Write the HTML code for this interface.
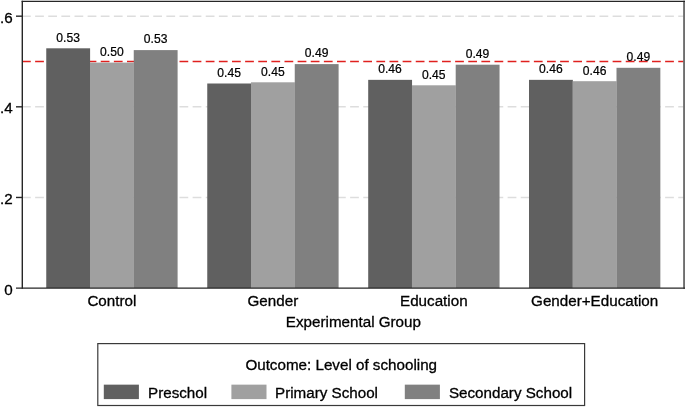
<!DOCTYPE html>
<html><head><meta charset="utf-8"><title>chart</title>
<style>
html,body{margin:0;padding:0;background:#fff;}
body{width:685px;height:407px;overflow:hidden;}
svg{display:block;will-change:transform;}
text{font-family:"Liberation Sans",sans-serif;fill:#000;stroke:#000;stroke-width:0.3px;}
.t{font-size:15.2px;}
.l{font-size:12.1px;stroke-width:0.22px;}
</style></head><body>
<svg width="685" height="407" viewBox="0 0 685 407">
<rect x="0" y="0" width="685" height="407" fill="#ffffff"/>

<line x1="22.0" y1="197.46" x2="684.0" y2="197.46" stroke="#dddddd" stroke-width="1.45" stroke-dasharray="8.75 4.375"/>
<line x1="22.0" y1="106.82" x2="684.0" y2="106.82" stroke="#dddddd" stroke-width="1.45" stroke-dasharray="8.75 4.375"/>
<line x1="22.0" y1="16.18" x2="684.0" y2="16.18" stroke="#dddddd" stroke-width="1.45" stroke-dasharray="8.75 4.375"/>
<line x1="22.0" y1="61.5" x2="684.0" y2="61.5" stroke="#e0201e" stroke-width="1.4" stroke-dasharray="8.75 4.375"/>
<rect x="46.25" y="48.30" width="43.85" height="239.70" fill="#606060"/>
<rect x="90.00" y="62.60" width="43.85" height="225.40" fill="#a0a0a0"/>
<rect x="133.75" y="50.10" width="43.85" height="237.90" fill="#808080"/>
<rect x="207.25" y="83.50" width="43.85" height="204.50" fill="#606060"/>
<rect x="251.00" y="82.30" width="43.85" height="205.70" fill="#a0a0a0"/>
<rect x="294.75" y="64.10" width="43.85" height="223.90" fill="#808080"/>
<rect x="368.20" y="79.85" width="43.85" height="208.15" fill="#606060"/>
<rect x="411.95" y="85.30" width="43.85" height="202.70" fill="#a0a0a0"/>
<rect x="455.70" y="64.70" width="43.85" height="223.30" fill="#808080"/>
<rect x="529.00" y="79.85" width="43.85" height="208.15" fill="#606060"/>
<rect x="572.75" y="81.20" width="43.85" height="206.80" fill="#a0a0a0"/>
<rect x="616.50" y="67.80" width="43.85" height="220.20" fill="#808080"/>
<rect x="683.1" y="0.7000000000000001" width="2" height="288.04999999999995" fill="#6e6e6e"/>
<line x1="22.3" y1="0.7000000000000001" x2="22.3" y2="288.65" stroke="#262626" stroke-width="1.4"/>
<line x1="21.650000000000002" y1="1.35" x2="685.0" y2="1.35" stroke="#262626" stroke-width="1.4"/>
<line x1="16" y1="288.1" x2="685.0" y2="288.1" stroke="#262626" stroke-width="1.4"/>
<line x1="16" y1="197.46" x2="22.3" y2="197.46" stroke="#262626" stroke-width="1.4"/>
<line x1="16" y1="106.82" x2="22.3" y2="106.82" stroke="#262626" stroke-width="1.4"/>
<line x1="16" y1="16.18" x2="22.3" y2="16.18" stroke="#262626" stroke-width="1.4"/>
<text class="t" transform="translate(12.6 294.55)" text-anchor="end">0</text>
<text class="t" transform="translate(12.6 203.91)" text-anchor="end">.2</text>
<text class="t" transform="translate(12.6 113.27)" text-anchor="end">.4</text>
<text class="t" transform="translate(12.6 22.63)" text-anchor="end">.6</text>
<text class="l" x="68.12" y="41.60" text-anchor="middle">0.53</text>
<text class="l" x="111.88" y="55.90" text-anchor="middle">0.50</text>
<text class="l" x="155.62" y="43.40" text-anchor="middle">0.53</text>
<text class="l" x="229.12" y="76.80" text-anchor="middle">0.45</text>
<text class="l" x="272.88" y="75.60" text-anchor="middle">0.45</text>
<text class="l" x="316.62" y="57.40" text-anchor="middle">0.49</text>
<text class="l" x="390.07" y="73.15" text-anchor="middle">0.46</text>
<text class="l" x="433.82" y="78.60" text-anchor="middle">0.45</text>
<text class="l" x="477.57" y="58.00" text-anchor="middle">0.49</text>
<text class="l" x="550.88" y="73.15" text-anchor="middle">0.46</text>
<text class="l" x="594.62" y="74.50" text-anchor="middle">0.46</text>
<text class="l" x="638.38" y="61.10" text-anchor="middle">0.49</text>
<text class="t" transform="translate(111.88 306.1)" text-anchor="middle">Control</text>
<text class="t" transform="translate(272.88 306.1)" text-anchor="middle">Gender</text>
<text class="t" transform="translate(433.82 306.1)" text-anchor="middle">Education</text>
<text class="t" transform="translate(594.62 306.1)" text-anchor="middle">Gender+Education</text>
<text class="t" transform="translate(353.4 327.4)" text-anchor="middle">Experimental Group</text>
<rect x="97.8" y="343.6" width="486.80" height="61.90" fill="#fff" stroke="#3a3a3a" stroke-width="1.2"/>
<text class="t" transform="translate(341.2 369.8)" text-anchor="middle">Outcome: Level of schooling</text>
<rect x="103.8" y="384.65" width="35.1" height="14.45" fill="#606060"/>
<text class="t" transform="translate(148.0 398.2)">Preschol</text>
<rect x="231.4" y="384.65" width="35.1" height="14.45" fill="#a0a0a0"/>
<text class="t" transform="translate(275.0 398.2)">Primary School</text>
<rect x="404.8" y="384.65" width="35.1" height="14.45" fill="#808080"/>
<text class="t" transform="translate(448.9 398.2)">Secondary School</text>
</svg></body></html>
